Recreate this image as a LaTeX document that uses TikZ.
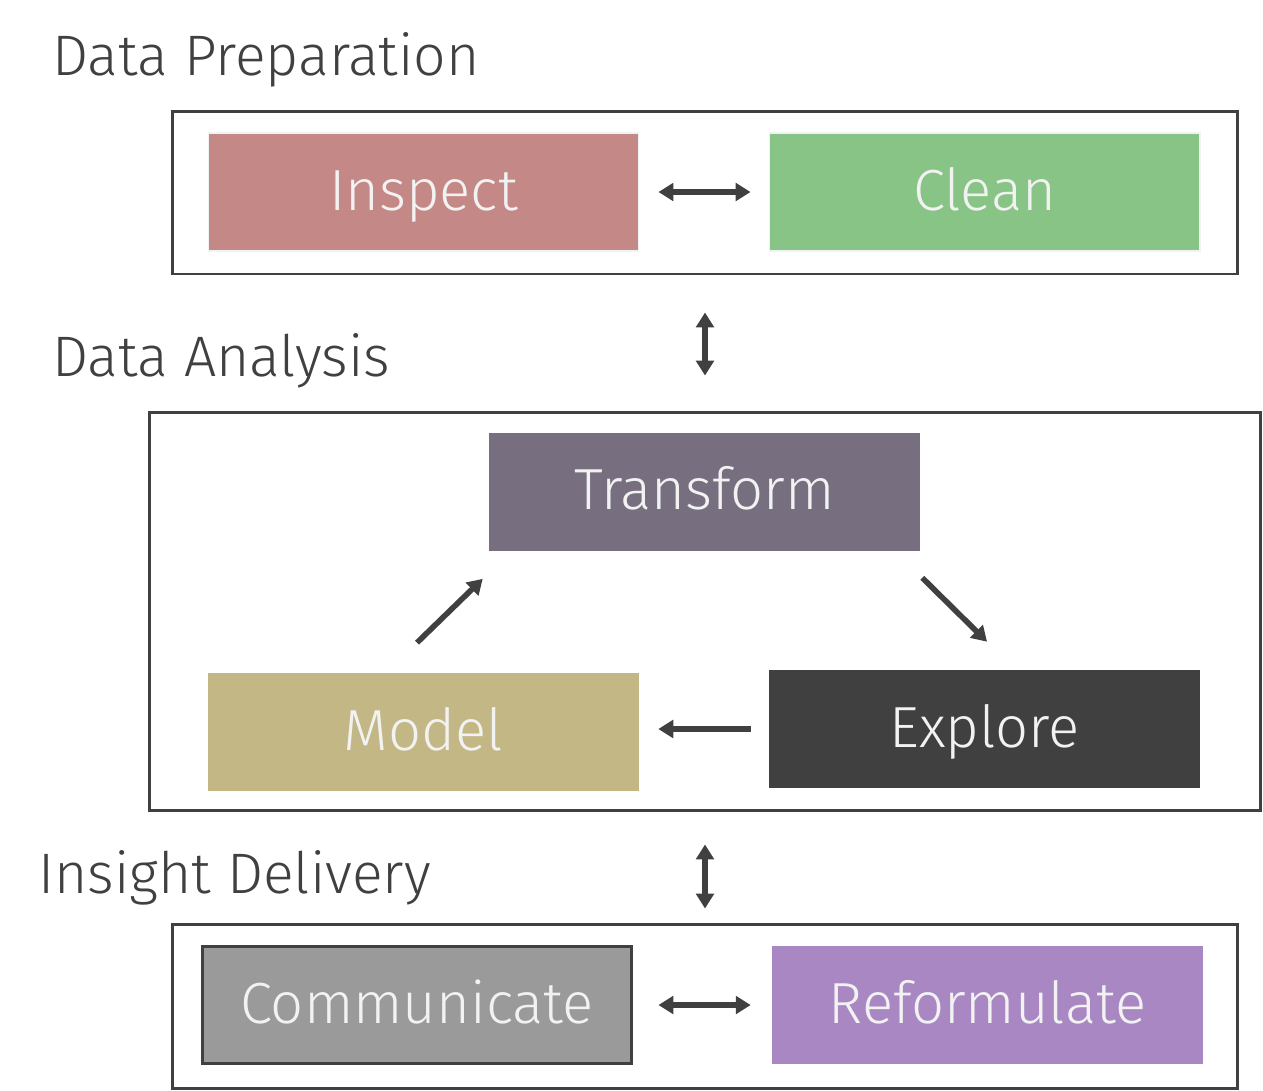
\documentclass[tikz,border=0pt]{standalone}
\usepackage{fontspec}
\setmainfont{Fira Sans Light}
\usetikzlibrary{arrows.meta}

\definecolor{darkgrey}{HTML}{404040}
\definecolor{boxtext}{HTML}{F2F2F2}
\definecolor{inspectred}{HTML}{C48886}
\definecolor{cleangreen}{HTML}{87C485}
\definecolor{transformpurple}{HTML}{776E80}
\definecolor{modelsand}{HTML}{C3B785}
\definecolor{communicategrey}{HTML}{9A9A9A}
\definecolor{reformulatelilac}{HTML}{A887C3}

\begin{document}
\begin{tikzpicture}[x=0.02cm,y=-0.02cm,>={Triangle[length=8.5pt,width=10pt]}]
  \tikzstyle{stage}=[rectangle,minimum width=8.62cm,minimum height=2.36cm,inner sep=0pt,text=boxtext,text height=0.86cm,text depth=0.14cm,font=\fontsize{33}{40}\selectfont]
  \tikzstyle{group}=[rectangle,draw=darkgrey,line width=1.7pt,inner sep=0pt]
  \tikzstyle{title}=[anchor=base west,inner sep=0pt,text=darkgrey,font=\fontsize{32.5}{40}\selectfont]
  \tikzstyle{link}=[draw=darkgrey,line width=3.2pt]

\useasboundingbox (0,0) rectangle (1263,1090);

% data preparation
\node [title] at (52,75) {Data Preparation};
\node [group,minimum width=21.32cm,minimum height=3.26cm] (prep) at (705,192.5) {};
\node [stage,fill=inspectred,draw=boxtext,line width=0.6pt] (inspect) at (423.5,192) {Inspect};
\node [stage,fill=cleangreen,draw=boxtext,line width=0.6pt] (clean) at (984.5,192) {Clean};
\draw [link,<->,shorten <=0.38cm,shorten >=0.36cm] (inspect) -- (clean);

% data analysis
\node [title] at (52,376) {Data Analysis};
\node [group,minimum width=22.24cm,minimum height=7.98cm] (analysis) at (705,611.5) {};
\node [stage,fill=transformpurple] (transform) at (704.5,491.5) {Transform};
\node [stage,fill=modelsand] (model) at (423.5,732) {Model};
\node [stage,fill=darkgrey] (explore) at (984.5,729) {Explore};
\draw [link,->] ([xshift=-0.13cm,yshift=0.6cm]model.north) -- ([xshift=-0.12cm,yshift=-0.56cm]transform.south west);
\draw [link,->] ([xshift=0.04cm,yshift=-0.54cm]transform.south east) -- ([xshift=0.05cm,yshift=0.56cm]explore.north);
\draw [link,->,shorten <=0.36cm,shorten >=0.38cm] (explore.west) -- (model.east |- explore.west);

\draw [link,<->,shorten <=0.74cm,shorten >=0.7cm] (prep.south) -- (analysis.north);

% insight delivery
\node [title] at (38,893) {Insight Delivery};
\node [group,minimum width=21.32cm,minimum height=3.28cm] (delivery) at (705,1006) {};
\node [stage,fill=communicategrey,draw=darkgrey,line width=1.7pt,minimum width=8.6cm,minimum height=2.33cm] (communicate) at (417,1005) {Communicate};
\node [stage,fill=reformulatelilac] (reformulate) at (987.5,1005) {Reformulate};
\draw [link,<->,shorten <=0.5cm,shorten >=0.42cm] (communicate) -- (reformulate);

\draw [link,<->,shorten <=0.64cm,shorten >=0.28cm] (analysis.south) -- (delivery.north);

\end{tikzpicture}
\end{document}
